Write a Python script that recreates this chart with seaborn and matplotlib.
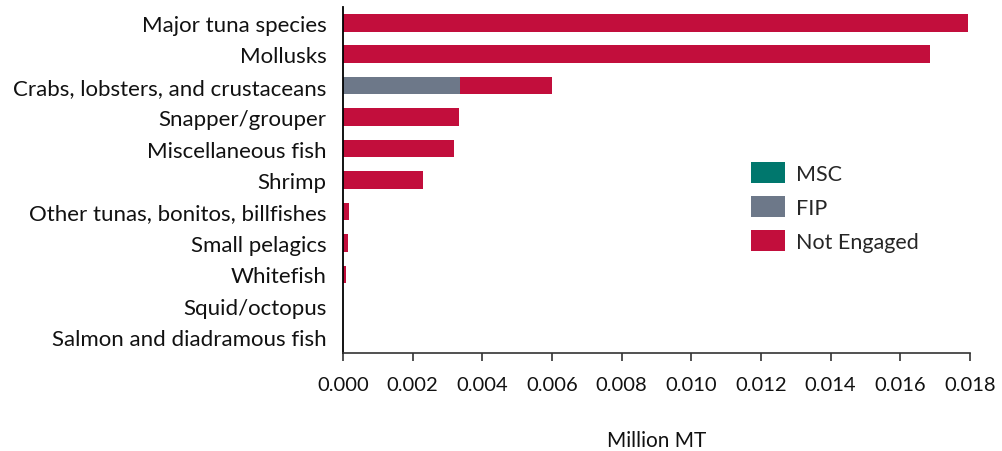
import matplotlib
matplotlib.use("Agg")
import matplotlib.pyplot as plt
from matplotlib.patches import Patch
import numpy as np
import pandas as pd
import seaborn as sns

# Catch volume by species group, split by engagement status (million MT)
categories = [
    "Major tuna species",
    "Mollusks",
    "Crabs, lobsters, and crustaceans",
    "Snapper/grouper",
    "Miscellaneous fish",
    "Shrimp",
    "Other tunas, bonitos, billfishes",
    "Small pelagics",
    "Whitefish",
    "Squid/octopus",
    "Salmon and diadramous fish",
]
msc = [0.0, 0.0, 0.0, 0.0, 0.0, 0.0, 0.0, 0.0, 0.0, 0.0, 0.0]
fip = [0.0, 0.0, 0.00336, 0.0, 0.0, 0.0, 0.0, 0.0, 0.0, 0.0, 0.0]
not_engaged = [0.01795, 0.01685, 0.00265, 0.00334, 0.00318, 0.0023,
               0.00016, 0.000135, 0.00008, 0.0, 0.0]

series_names = ["MSC", "FIP", "Not Engaged"]
colors = {"MSC": "#00776D", "FIP": "#6D7889", "Not Engaged": "#C20E3C"}

x_ticks = [0.000, 0.002, 0.004, 0.006, 0.008, 0.010, 0.012, 0.014, 0.016, 0.018]

df = pd.DataFrame({"category": categories, "MSC": msc, "FIP": fip,
                   "Not Engaged": not_engaged})
# cumulative totals so each layer can be drawn behind the previous one
df["cum_msc"] = df["MSC"]
df["cum_fip"] = df["cum_msc"] + df["FIP"]
df["cum_all"] = df["cum_fip"] + df["Not Engaged"]

sns.set_style("white")
plt.rcParams["font.family"] = ["Lato", "DejaVu Sans"]

fig = plt.figure(figsize=(10.02, 4.52), dpi=100)
ax = fig.add_axes([343 / 1002, 1 - 354 / 452, (970 - 343) / 1002, (354 - 8) / 452])

bar_w = 0.56
for col, name in [("cum_all", "Not Engaged"), ("cum_fip", "FIP"), ("cum_msc", "MSC")]:
    sns.barplot(data=df, x=col, y="category", order=categories, orient="h",
                color=colors[name], width=bar_w, saturation=1, ax=ax,
                linewidth=0)

ax.set_xlim(0, 0.018)
ax.set_ylim(10.5, -0.5)
ax.set_xticks(x_ticks)
ax.set_xticklabels([f"{v:.3f}" for v in x_ticks])
ax.set_ylabel("")
ax.set_xlabel("Million MT", fontsize=15, labelpad=26.5, color="#111111")

ax.tick_params(axis="x", length=6, width=1.2, color="#333333", pad=10.5,
               labelsize=14.5, labelcolor="#111111", bottom=True)
ax.tick_params(axis="y", length=0, pad=12, labelsize=16, labelcolor="#111111")

for s in ["top", "right"]:
    ax.spines[s].set_visible(False)
ax.spines["left"].set_color("#000000")
ax.spines["left"].set_linewidth(1.3)
ax.spines["bottom"].set_color("#333333")
ax.spines["bottom"].set_linewidth(1.2)

handles = [Patch(facecolor=colors[n], edgecolor="none", label=n) for n in series_names]
ax.legend(handles=handles, loc="upper left", bbox_to_anchor=(742 / 1002, 1 - 154 / 452),
          bbox_transform=fig.transFigure, frameon=False, fontsize=15.5,
          handlelength=1.58, handleheight=1.16, labelspacing=0.56,
          handletextpad=0.51, borderaxespad=0)

fig.savefig("out.png", dpi=100)
